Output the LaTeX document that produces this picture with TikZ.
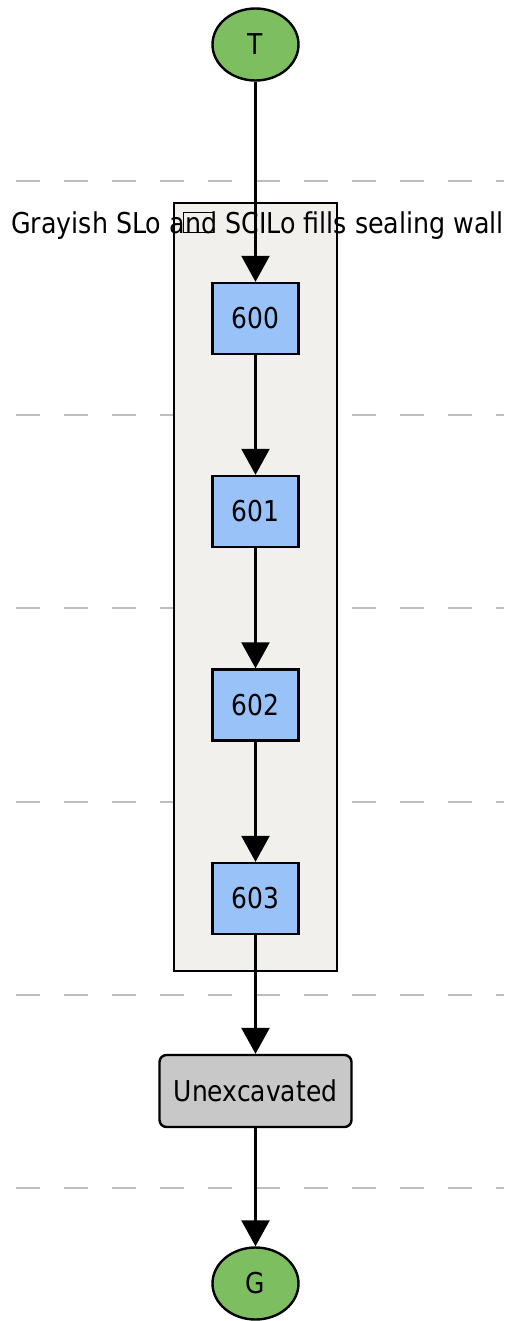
\documentclass[tikz,border=0pt]{standalone}
\usepackage{fontspec}
\usepackage{graphicx}
\setmainfont{DejaVu Sans}
\usetikzlibrary{shapes.geometric,arrows.meta}
\definecolor{termgreen}{RGB}{124,190,96}
\definecolor{boxblue}{RGB}{153,194,248}
\definecolor{groupfill}{RGB}{242,240,236}
\definecolor{unexgray}{RGB}{200,200,200}
\definecolor{dashgray}{RGB}{190,190,190}
\newcommand{\tx}[1]{\scalebox{0.87}[1]{#1}}
\newcommand{\txl}[1]{\scalebox{0.883}[1]{#1}}
\tikzset{
  lbl/.style={font=\fontsize{28.7}{34}\selectfont},
  term/.style={ellipse,draw=black,line width=2.4pt,fill=termgreen,minimum width=86pt,minimum height=72pt,inner sep=0pt,lbl},
  ctx/.style={rectangle,draw=black,line width=2.4pt,fill=boxblue,minimum width=86pt,minimum height=71pt,inner sep=0pt,lbl},
  unex/.style={rectangle,rounded corners=7pt,draw=black,line width=2.4pt,fill=unexgray,minimum width=192pt,minimum height=72pt,inner sep=0pt,lbl},
  phase/.style={draw=dashgray,line width=2pt,dash pattern=on 24pt off 24pt},
  flow/.style={draw=black,line width=2.4pt,-{Triangle[width=28pt,length=26pt]}},
}
\begin{document}
\begin{tikzpicture}[x=1pt,y=-1pt]
\useasboundingbox (0,0) rectangle (504,1321);
% phase separators
\foreach \yy in {181.5,415,608,801.5,994.5,1187.5}
  \draw[phase] (16,\yy) -- (504,\yy);
% group
\node[draw=black,line width=2.4pt,fill=groupfill,minimum width=163pt,minimum height=768pt,inner sep=0pt] (grp) at (255.5,587) {};
\node[anchor=base west,inner sep=0pt,lbl] (glabel) at (11,234) {\txl{Grayish SLo and SCILo fills sealing wall}};
\node[draw=black,line width=1.8pt,minimum width=30pt,minimum height=20pt,inner sep=0pt] (gicon) at (198.5,222.5) {};
% nodes
\node[term] (T) at (255.5,44.5) {\tx{T}};
\node[ctx] (n600) at (255.5,318.5) {\tx{600}};
\node[ctx] (n601) at (255.5,511.5) {\tx{601}};
\node[ctx] (n602) at (255.5,705) {\tx{602}};
\node[ctx] (n603) at (255.5,898.5) {\tx{603}};
\node[unex] (U) at (255.5,1091) {\tx{Unexcavated}};
\node[term] (G) at (255.5,1283.5) {\tx{G}};
% edges
\draw[flow] (T) -- (n600);
\draw[flow] (n600) -- (n601);
\draw[flow] (n601) -- (n602);
\draw[flow] (n602) -- (n603);
\draw[flow] (n603) -- (U);
\draw[flow] (U) -- (G);
\end{tikzpicture}
\end{document}
